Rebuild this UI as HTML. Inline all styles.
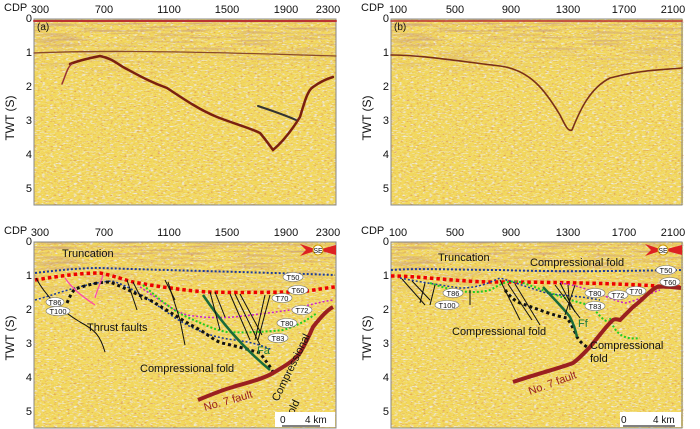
<!DOCTYPE html>
<html><head><meta charset="utf-8"><style>
html,body{margin:0;padding:0;background:#fff;}
svg{display:block;font-family:"Liberation Sans",sans-serif;}
</style></head><body>
<svg width="700" height="429" viewBox="0 0 700 429">
<defs>
<filter id="noise" x="0" y="0" width="100%" height="100%">
<feTurbulence type="fractalNoise" baseFrequency="0.25 0.7" numOctaves="2" seed="3"/>
<feColorMatrix type="matrix" values="0 0 0 0 0.85  0 0 0 0 0.82  0 0 0 0 0.75  0 0 0 4 -2.1"/>
</filter>
<filter id="noiseb" x="0" y="0" width="100%" height="100%">
<feTurbulence type="fractalNoise" baseFrequency="0.3 0.8" numOctaves="2" seed="11"/>
<feColorMatrix type="matrix" values="0 0 0 0 0.75  0 0 0 0 0.35  0 0 0 0 0.1  0 0 0 4 -2.3"/>
</filter>
<filter id="noise2" x="0" y="0" width="100%" height="100%">
<feTurbulence type="fractalNoise" baseFrequency="0.02 0.45" numOctaves="2" seed="8"/>
<feColorMatrix type="matrix" values="0 0 0 0 0.6  0 0 0 0 0.35  0 0 0 0 0.2  0 0 0 3 -1.4"/>
</filter>
<linearGradient id="fade" x1="0" y1="0" x2="0" y2="1">
<stop offset="0" stop-color="#fff" stop-opacity="1"/><stop offset="1" stop-color="#fff" stop-opacity="0"/>
</linearGradient>
<mask id="topm"><rect width="302" height="60" fill="url(#fade)"/></mask>
<g id="bg">
<rect width="302" height="186" fill="#f2d85c"/>
<rect width="302" height="186" filter="url(#noise)"/>
<rect width="302" height="186" filter="url(#noiseb)"/>
<rect width="302" height="60" filter="url(#noise2)" mask="url(#topm)"/>
</g>
</defs>
<g font-size="11" fill="#111">
<use href="#bg" x="34" y="19"/>
<use href="#bg" x="391" y="19" transform="translate(391 19) scale(0.967 1) translate(-391 -19)"/>
<use href="#bg" x="34" y="242"/>
<use href="#bg" x="391" y="242" transform="translate(391 242) scale(0.967 1) translate(-391 -242)"/>
<rect x="34" y="19" width="302" height="186" fill="none" stroke="#888"/>
<rect x="391" y="19" width="291" height="186" fill="none" stroke="#888"/>
<rect x="34" y="242" width="302" height="186" fill="none" stroke="#888"/>
<rect x="391" y="242" width="291" height="186" fill="none" stroke="#888"/>

<!-- panel a reflectors -->
<g fill="none" stroke-linecap="round">
<path d="M34 21 H336" stroke="#b33" stroke-width="2"/>
<path d="M34 53 C80 51 150 50 336 56" stroke="#8a4a2a" stroke-width="1.3"/>
<path d="M70 64 C80 60 90 58 100 56 C110 58 115 62 123 67 C140 76 150 82 167 88 C185 100 200 110 217 117 C235 124 250 128 260 133 C266 140 270 146 273 150 C285 140 295 125 300 117 C305 100 308 90 313 87 C320 82 326 79 333 77" stroke="#7a2010" stroke-width="2.5"/>
<path d="M258 106 C270 110 285 115 296 120" stroke="#333" stroke-width="2"/>
<path d="M62 84 C66 74 68 66 72 64" stroke="#933" stroke-width="1.5"/>
</g>
<text x="37" y="30" font-size="10">(a)</text>
<g fill="none" stroke-linecap="round">
<path d="M391 21 H682" stroke="#b33" stroke-width="1.5"/>
<path d="M391 55 C420 55 450 60 500 66 C530 70 545 90 560 115 C565 125 568 132 572 130 C580 110 590 88 610 78 C640 70 660 70 682 68" stroke="#7a3018" stroke-width="1.6"/>
</g>
<text x="394" y="30" font-size="10">(b)</text>

<!-- panel c interpretation -->
<g fill="none">
<path d="M35 273 C60 270 80 268 100 268 C160 270 250 272 335 275" stroke="#1a3a9a" stroke-width="2" stroke-dasharray="2 2"/>
<path d="M35 280 C60 276 80 273 100 273 C115 276 125 280 133 282 C160 287 190 291 207 292 C240 293 280 292 300 292 C315 290 325 288 335 287" stroke="#e00" stroke-width="3.5" stroke-dasharray="3.5 3"/>
<path d="M35 300 C50 296 60 292 75 288 C90 284 100 282 112 281 C130 286 150 300 175 318 C195 330 210 337 235 340 C250 342 262 345 272 350" stroke="#1a3a9a" stroke-width="1.5" stroke-dasharray="2 2"/>
<path d="M67 303 C70 296 72 292 75 289 C90 284 100 282 110 282 C125 288 140 296 150 300 C170 312 185 322 200 330 C210 336 215 341 222 343 C240 347 250 350 260 353 C265 360 270 366 273 372" stroke="#111" stroke-width="3" stroke-dasharray="3 3"/>
<path d="M140 287 C160 300 175 312 187 315 C205 318 220 318 233 317 C255 315 275 312 290 310 C305 306 320 302 333 300" stroke="#c2c" stroke-width="1.5" stroke-dasharray="2 2"/>
<path d="M143 285 C160 300 175 312 187 317 C205 325 215 330 227 332 C245 333 265 332 283 330 C300 325 310 318 317 313" stroke="#2c2" stroke-width="2" stroke-dasharray="2 2"/>
<path d="M203 295 C220 320 240 345 270 370" stroke="#1a6a3a" stroke-width="2.5"/>
<path d="M198 400 C210 395 222 390 233 387 C250 382 265 378 273 373 C285 366 295 360 300 353 C306 343 310 334 313 327 C320 318 327 310 333 307" stroke="#9a2020" stroke-width="4"/>
<path d="M36 278 C45 295 60 310 80 322 C95 330 100 335 105 352" stroke="#111" stroke-width="1"/>
<g stroke="#111" stroke-width="1">
<path d="M127 280 L137 310"/><path d="M133 282 L142 300"/><path d="M165 280 L175 300"/><path d="M168 282 L180 320 L185 345"/>
<path d="M210 292 L220 330"/><path d="M215 292 L225 317"/><path d="M230 294 L250 340"/><path d="M235 294 L260 345"/><path d="M240 294 L262 335"/><path d="M265 295 L255 340"/><path d="M270 295 L258 340"/>
</g>
<path d="M65 278 C72 288 80 295 95 305" stroke="#f4a" stroke-width="1.2"/>
<path d="M103 275 C100 285 97 290 95 298" stroke="#f4a" stroke-width="1.2"/>
</g>
<g font-size="11">
<text x="62" y="257">Truncation</text>
<text x="87" y="331">Thrust faults</text>
<text x="140" y="372">Compressional fold</text>
<text x="205" y="411" fill="#9a2020" transform="rotate(-16 205 411)">No. 7 fault</text>
<text x="278" y="402" transform="rotate(-64 278 402)">Compressional</text>
<text x="292" y="418" transform="rotate(-64 292 418)">fold</text>
<text x="257" y="354" fill="#1a7a3a">Fa</text>
</g>
<g font-size="7.5" text-anchor="middle">
<g fill="#fff" stroke="#777" stroke-width="0.6">
<ellipse cx="55" cy="302" rx="9" ry="4.5"/><ellipse cx="58" cy="311" rx="12" ry="4.5"/>
<ellipse cx="293" cy="277" rx="10" ry="4.5"/><ellipse cx="298" cy="290" rx="10" ry="4.5"/>
<ellipse cx="282" cy="298" rx="10" ry="4.5"/><ellipse cx="302" cy="310" rx="10" ry="4.5"/>
<ellipse cx="287" cy="323" rx="10" ry="4.5"/><ellipse cx="278" cy="338" rx="10" ry="4.5"/>
</g>
<text x="55" y="305">T86</text><text x="58" y="314">T100</text>
<text x="293" y="280">T50</text><text x="298" y="293">T60</text><text x="282" y="301">T70</text>
<text x="302" y="313">T72</text><text x="287" y="326">T80</text><text x="278" y="341">T83</text>
</g>
<path d="M300 244 L318 250 L300 256 L306 250Z M318 250 L336 245 L336 255Z" fill="#d22"/>
<circle cx="318" cy="250" r="5" fill="#fff" stroke="#c90"/><text x="318" y="253" font-size="7" text-anchor="middle">SE</text>
<rect x="275" y="412" width="60" height="15" fill="#fff"/>
<text x="280" y="423" font-size="10">0</text><text x="305" y="423" font-size="10">4 km</text>
<path d="M282 426 H320" stroke="#000"/>

<!-- panel d interpretation -->
<g fill="none">
<path d="M391 270 C420 268 460 270 500 270 C560 272 620 271 682 270" stroke="#1a3a9a" stroke-width="2" stroke-dasharray="2 2"/>
<path d="M391 276 C420 276 450 281 490 282 C540 282 600 283 640 285 C660 286 670 287 682 287" stroke="#e00" stroke-width="3.5" stroke-dasharray="3.5 3"/>
<path d="M400 278 C420 282 440 285 460 288 C480 288 490 282 500 278 C520 284 535 290 550 294 C575 296 590 298 600 300" stroke="#1a3a9a" stroke-width="1.5" stroke-dasharray="2 2"/>
<path d="M430 283 C450 290 470 295 490 290 C500 285 505 280 520 282 C545 290 565 300 590 305 C600 315 605 325 612 320" stroke="#2c2" stroke-width="2" stroke-dasharray="2 2"/>
<path d="M505 290 C510 296 513 300 520 303 C540 310 555 316 567 318 C572 325 575 332 577 337 C580 342 584 345 587 347" stroke="#111" stroke-width="3" stroke-dasharray="3 3"/>
<path d="M560 283 C590 287 610 300 625 303 C640 300 650 293 660 290" stroke="#c2c" stroke-width="1.5" stroke-dasharray="2 2"/>
<path d="M610 318 C615 335 625 340 640 338" stroke="#2c2" stroke-width="2" stroke-dasharray="2 2"/>
<path d="M513 382 C540 373 560 368 573 363 C580 358 585 352 590 347 C600 335 607 325 613 320 C616 318 618 320 620 320 C625 315 630 310 633 307 C645 298 650 290 657 287 C665 286 672 287 681 288" stroke="#9a2020" stroke-width="4"/>
<path d="M543 287 C555 300 565 310 570 317 C574 325 576 332 577 337" stroke="#1a6a3a" stroke-width="2.5"/>
<g stroke="#111" stroke-width="1">
<path d="M402 279 L425 305"/><path d="M412 281 L430 300"/><path d="M425 283 L420 303"/><path d="M435 285 L430 305"/><path d="M470 290 L470 305"/>
<path d="M500 280 L520 320"/><path d="M508 284 L532 320"/><path d="M515 284 L540 325"/><path d="M555 285 L580 318"/><path d="M560 283 L575 312"/><path d="M568 285 L570 310"/><path d="M575 285 L565 315"/>
</g>
</g>
<g font-size="11">
<text x="438" y="261">Truncation</text>
<text x="530" y="266">Compressional fold</text>
<text x="452" y="335">Compressional fold</text>
<text x="590" y="349">Compressional</text>
<text x="590" y="362">fold</text>
<text x="530" y="395" fill="#9a2020" transform="rotate(-20 530 395)">No. 7 fault</text>
<text x="578" y="327" fill="#1a7a3a">Ff</text>
</g>
<g font-size="7.5" text-anchor="middle">
<g fill="#fff" stroke="#777" stroke-width="0.6">
<ellipse cx="453" cy="293" rx="10" ry="4.5"/><ellipse cx="447" cy="305" rx="12" ry="4.5"/>
<ellipse cx="666" cy="270" rx="10" ry="4.5"/><ellipse cx="670" cy="282" rx="10" ry="4.5"/>
<ellipse cx="636" cy="291" rx="10" ry="4.5"/><ellipse cx="618" cy="295" rx="10" ry="4.5"/>
<ellipse cx="595" cy="293" rx="10" ry="4.5"/><ellipse cx="595" cy="306" rx="10" ry="4.5"/>
</g>
<text x="453" y="296">T86</text><text x="447" y="308">T100</text>
<text x="666" y="273">T50</text><text x="670" y="285">T60</text><text x="636" y="294">T70</text>
<text x="618" y="298">T72</text><text x="595" y="296">T80</text><text x="595" y="309">T83</text>
</g>
<path d="M645 244 L663 250 L645 256 L651 250Z M663 250 L682 245 L682 255Z" fill="#d22"/>
<circle cx="663" cy="250" r="5" fill="#fff" stroke="#c90"/><text x="663" y="253" font-size="7" text-anchor="middle">SE</text>
<rect x="620" y="412" width="61" height="15" fill="#fff"/>
<text x="621" y="423" font-size="10">0</text><text x="653" y="423" font-size="10">4 km</text>
<path d="M623 426 H675" stroke="#000"/>

<g font-size="11">
<text x="4" y="11">CDP</text>
<text x="361" y="11">CDP</text>
<text x="4" y="234">CDP</text>
<text x="361" y="234">CDP</text>
</g>
<g font-size="11" text-anchor="middle">
<text x="40" y="13">300</text><text x="104" y="13">700</text><text x="169" y="13">1100</text><text x="227" y="13">1500</text><text x="286" y="13">1900</text><text x="328" y="13">2300</text>
<text x="40" y="236">300</text><text x="104" y="236">700</text><text x="169" y="236">1100</text><text x="227" y="236">1500</text><text x="286" y="236">1900</text><text x="328" y="236">2300</text>
<text x="398" y="13">100</text><text x="455" y="13">500</text><text x="511" y="13">900</text><text x="568" y="13">1300</text><text x="624" y="13">1700</text><text x="673" y="13">2100</text>
<text x="398" y="236">100</text><text x="455" y="236">500</text><text x="511" y="236">900</text><text x="568" y="236">1300</text><text x="624" y="236">1700</text><text x="673" y="236">2100</text>
</g>
<g font-size="11" text-anchor="end">
<text x="32" y="22">0</text><text x="32" y="56">1</text><text x="32" y="90">2</text><text x="32" y="124">3</text><text x="32" y="158">4</text><text x="32" y="192">5</text>
<text x="389" y="22">0</text><text x="389" y="56">1</text><text x="389" y="90">2</text><text x="389" y="124">3</text><text x="389" y="158">4</text><text x="389" y="192">5</text>
<text x="32" y="245">0</text><text x="32" y="279">1</text><text x="32" y="313">2</text><text x="32" y="347">3</text><text x="32" y="381">4</text><text x="32" y="415">5</text>
<text x="389" y="245">0</text><text x="389" y="279">1</text><text x="389" y="313">2</text><text x="389" y="347">3</text><text x="389" y="381">4</text><text x="389" y="415">5</text>
</g>
<g font-size="12" text-anchor="middle">
<text transform="translate(14 118) rotate(-90)">TWT (S)</text>
<text transform="translate(371 118) rotate(-90)">TWT (S)</text>
<text transform="translate(14 338) rotate(-90)">TWT (S)</text>
<text transform="translate(371 338) rotate(-90)">TWT (S)</text>
</g>
</g>
</svg>
</body></html>
